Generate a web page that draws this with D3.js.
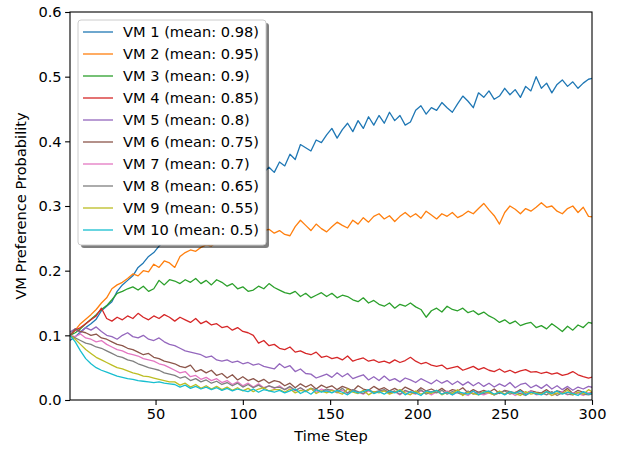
<!DOCTYPE html>
<html>
<head>
<meta charset="utf-8">
<script src="https://cdn.jsdelivr.net/npm/d3@7.9.0/dist/d3.min.js"></script>
<style>
  body { margin: 0; background: #fff; }
  svg { font-family: "DejaVu Sans", sans-serif; }
</style>
</head>
<body>
<div id="vis"></div>
<script>
// time steps sampled every 3 steps (1, 4, ..., 301)
const steps = d3.range(1, 302, 3);

const names = ['VM 1', 'VM 2', 'VM 3', 'VM 4', 'VM 5', 'VM 6', 'VM 7', 'VM 8', 'VM 9', 'VM 10'];
const means = ['0.98', '0.95', '0.9', '0.85', '0.8', '0.75', '0.7', '0.65', '0.55', '0.5'];
const colors = ['#1f77b4', '#ff7f0e', '#2ca02c', '#d62728', '#9467bd', '#8c564b', '#e377c2', '#7f7f7f', '#bcbd22', '#17becf'];

const vm1 = [.092,.098,.105,.112,.118,.125,.138,.145,.152,.168,
  .178,.185,.192,.205,.212,.222,.228,.238,.246,.250,
  .258,.262,.270,.272,.280,.286,.290,.296,.300,.305,
  .312,.318,.322,.330,.335,.340,.346,.352,.360,.352,
  .368,.362,.380,.372,.395,.390,.385,.402,.398,.410,
  .420,.405,.418,.428,.415,.432,.420,.438,.425,.440,
  .428,.445,.432,.440,.425,.430,.448,.455,.442,.452,
  .448,.460,.452,.445,.458,.470,.462,.452,.475,.468,
  .478,.465,.470,.482,.472,.480,.468,.485,.478,.500,
  .482,.490,.475,.488,.495,.485,.492,.482,.490,.496,.498];
const vm2 = [.100,.108,.118,.125,.132,.140,.150,.158,.172,.178,
  .182,.188,.195,.192,.200,.198,.210,.205,.215,.212,
  .205,.222,.228,.232,.230,.236,.240,.238,.244,.246,
  .248,.250,.252,.254,.256,.258,.260,.262,.264,.258,
  .262,.256,.254,.268,.278,.270,.262,.272,.265,.260,
  .268,.275,.270,.266,.278,.272,.282,.275,.284,.288,
  .280,.285,.276,.284,.290,.283,.288,.281,.292,.286,
  .280,.288,.284,.290,.282,.286,.292,.288,.296,.304,
  .294,.285,.272,.290,.300,.295,.288,.296,.292,.298,
  .305,.298,.300,.292,.288,.296,.300,.290,.298,.284,.283];
const vm3 = [.100,.104,.110,.118,.125,.132,.140,.146,.155,.165,
  .168,.172,.175,.170,.176,.168,.172,.185,.178,.186,
  .184,.180,.186,.182,.188,.180,.185,.178,.186,.182,
  .176,.180,.172,.175,.168,.170,.176,.172,.180,.174,
  .170,.166,.164,.168,.160,.165,.158,.162,.166,.160,
  .165,.158,.162,.160,.155,.152,.158,.150,.154,.148,
  .145,.150,.142,.148,.145,.150,.144,.140,.128,.138,
  .142,.136,.145,.140,.138,.142,.135,.138,.132,.136,
  .130,.126,.120,.124,.118,.122,.115,.118,.120,.112,
  .115,.110,.118,.112,.106,.114,.108,.116,.112,.120,.118];
const vm4 = [.100,.108,.112,.118,.124,.130,.142,.126,.122,.128,
  .124,.130,.126,.134,.128,.124,.130,.126,.132,.128,
  .122,.128,.124,.120,.126,.118,.122,.116,.118,.112,
  .114,.108,.112,.106,.104,.100,.088,.092,.084,.086,
  .080,.078,.082,.074,.076,.072,.070,.074,.066,.068,
  .064,.066,.062,.068,.060,.063,.065,.060,.062,.058,
  .060,.057,.062,.058,.061,.066,.060,.056,.058,.054,
  .052,.054,.048,.050,.052,.046,.049,.052,.047,.050,
  .046,.044,.048,.043,.046,.042,.045,.047,.043,.044,
  .041,.043,.040,.042,.038,.040,.044,.039,.036,.034,.036];
const vm5 = [.105,.110,.104,.112,.108,.113,.106,.100,.098,.094,
  .100,.104,.098,.096,.100,.094,.092,.096,.090,.086,
  .084,.080,.076,.074,.072,.070,.066,.068,.062,.060,
  .062,.058,.060,.056,.058,.054,.056,.052,.050,.048,
  .056,.050,.053,.044,.048,.041,.040,.034,.037,.040,
  .035,.042,.036,.041,.033,.036,.039,.031,.036,.030,
  .037,.030,.033,.028,.034,.031,.027,.033,.029,.025,
  .031,.026,.030,.024,.029,.023,.028,.022,.027,.021,
  .026,.020,.025,.021,.027,.019,.024,.026,.019,.023,
  .018,.024,.017,.022,.016,.021,.015,.020,.017,.021,.019];
const vm6 = [.100,.110,.106,.104,.100,.102,.096,.094,.090,.086,
  .084,.080,.078,.074,.070,.072,.066,.064,.060,.058,
  .056,.052,.050,.054,.044,.047,.042,.046,.038,.041,
  .034,.039,.031,.036,.030,.033,.028,.032,.026,.030,
  .028,.022,.026,.019,.025,.020,.024,.017,.023,.019,
  .022,.016,.021,.018,.014,.022,.017,.015,.021,.016,
  .019,.014,.018,.013,.020,.016,.012,.019,.014,.017,
  .013,.018,.012,.016,.014,.019,.011,.016,.012,.015,
  .012,.017,.010,.015,.013,.011,.016,.010,.014,.012,
  .011,.016,.010,.014,.012,.018,.010,.015,.012,.010,.013];
const vm7 = [.100,.098,.102,.096,.094,.090,.092,.086,.082,.078,
  .076,.072,.070,.068,.064,.062,.060,.056,.054,.050,
  .046,.042,.044,.036,.038,.032,.035,.030,.033,.027,
  .030,.024,.028,.022,.026,.020,.025,.019,.022,.018,
  .022,.016,.020,.014,.019,.013,.018,.012,.017,.014,
  .016,.011,.015,.010,.016,.012,.009,.014,.011,.013,
  .015,.010,.013,.008,.014,.011,.009,.014,.012,.008,
  .013,.009,.014,.008,.012,.010,.007,.013,.010,.008,
  .011,.008,.013,.009,.012,.007,.011,.009,.014,.008,
  .009,.012,.007,.010,.013,.008,.011,.010,.007,.011,.009];
const vm8 = [.100,.096,.092,.088,.086,.082,.080,.076,.072,.068,
  .066,.062,.060,.056,.053,.050,.048,.046,.042,.040,
  .038,.034,.036,.030,.033,.028,.031,.026,.029,.024,
  .027,.022,.026,.020,.024,.019,.023,.018,.022,.019,
  .020,.016,.021,.015,.019,.014,.018,.016,.013,.017,
  .015,.012,.018,.011,.016,.013,.010,.016,.012,.014,
  .016,.011,.014,.009,.015,.012,.010,.016,.009,.013,
  .011,.015,.009,.013,.011,.008,.014,.009,.012,.010,
  .013,.008,.011,.014,.009,.012,.010,.007,.012,.009,
  .011,.008,.013,.007,.011,.009,.008,.012,.009,.008,.010];
const vm9 = [.100,.094,.086,.078,.072,.066,.062,.058,.054,.050,
  .048,.045,.042,.040,.037,.036,.034,.032,.030,.028,
  .028,.023,.026,.020,.024,.018,.022,.017,.021,.016,
  .020,.015,.019,.014,.018,.013,.017,.019,.014,.016,
  .016,.012,.017,.011,.015,.013,.018,.010,.014,.011,
  .015,.012,.009,.017,.012,.010,.015,.008,.013,.011,
  .014,.009,.012,.016,.011,.008,.014,.009,.012,.010,
  .015,.008,.012,.010,.016,.007,.012,.010,.008,.013,
  .011,.008,.014,.009,.012,.010,.007,.013,.009,.011,
  .009,.013,.007,.011,.010,.015,.008,.012,.009,.016,.011];
const vm10 = [.100,.090,.076,.064,.056,.050,.046,.043,.040,.037,
  .035,.033,.032,.030,.029,.028,.027,.028,.026,.025,
  .024,.020,.023,.018,.021,.017,.020,.016,.019,.015,
  .018,.014,.017,.015,.013,.017,.012,.016,.014,.012,
  .015,.011,.014,.017,.010,.014,.009,.016,.012,.014,
  .011,.015,.012,.008,.014,.011,.013,.016,.010,.013,
  .009,.014,.011,.015,.008,.013,.011,.007,.014,.012,
  .015,.009,.012,.008,.013,.011,.009,.014,.008,.012,
  .014,.009,.012,.008,.013,.010,.014,.008,.012,.010,
  .008,.013,.010,.014,.009,.012,.010,.007,.013,.009,.011];

const seriesValues = [vm1, vm2, vm3, vm4, vm5, vm6, vm7, vm8, vm9, vm10];
const xTicks = [50, 100, 150, 200, 250, 300];
const yTicks = [0, 0.1, 0.2, 0.3, 0.4, 0.5, 0.6];

const W = 618, H = 449;
const m = { left: 70, right: 26, top: 12, bottom: 49 };

const svg = d3.select('#vis').append('svg')
  .attr('width', W).attr('height', H);

const x = d3.scaleLinear().domain([1, 300]).range([m.left, W - m.right]);
const y = d3.scaleLinear().domain([0, 0.6]).range([H - m.bottom, m.top]);

svg.append('defs').append('clipPath').attr('id', 'clip')
  .append('rect')
  .attr('x', m.left).attr('y', m.top)
  .attr('width', W - m.left - m.right).attr('height', H - m.top - m.bottom);

// lines
const line = d3.line()
  .x((d, i) => x(steps[i]))
  .y(d => y(d));

svg.append('g').attr('clip-path', 'url(#clip)')
  .selectAll('path')
  .data(seriesValues)
  .join('path')
    .attr('fill', 'none')
    .attr('stroke', (d, i) => colors[i])
    .attr('stroke-width', 1.3)
    .attr('stroke-linejoin', 'round')
    .attr('d', line);

// axes
const fs = '14.6px';
const xAxis = svg.append('g')
  .attr('transform', `translate(0,${H - m.bottom})`)
  .call(d3.axisBottom(x).tickValues(xTicks).tickSize(4.9).tickPadding(3.5));
const yAxis = svg.append('g')
  .attr('transform', `translate(${m.left},0)`)
  .call(d3.axisLeft(y).tickValues(yTicks).tickSize(4.9).tickPadding(3.5).tickFormat(d3.format('.1f')));

[xAxis, yAxis].forEach(g => {
  g.select('.domain').remove();
  g.selectAll('.tick line').attr('stroke', '#000').attr('stroke-width', 1.1);
  g.selectAll('.tick text').attr('fill', '#000').style('font-size', fs)
    .style('font-family', '"DejaVu Sans", sans-serif');
});

// frame
svg.append('rect')
  .attr('x', m.left).attr('y', m.top)
  .attr('width', W - m.left - m.right).attr('height', H - m.top - m.bottom)
  .attr('fill', 'none').attr('stroke', '#000').attr('stroke-width', 1.1);

// axis labels
svg.append('text')
  .attr('x', (m.left + W - m.right) / 2).attr('y', 441)
  .attr('text-anchor', 'middle').style('font-size', fs)
  .text('Time Step');
svg.append('text')
  .attr('transform', `translate(26,${(m.top + H - m.bottom) / 2}) rotate(-90)`)
  .attr('text-anchor', 'middle').style('font-size', fs)
  .text('VM Preference Probability');

// legend
const lg = { x: 78, y: 20, w: 188, h: 225, row: 22 };
svg.append('rect')
  .attr('x', lg.x + 3).attr('y', lg.y + 3)
  .attr('width', lg.w).attr('height', lg.h)
  .attr('rx', 3).attr('fill', '#000').attr('opacity', 0.5);
svg.append('rect')
  .attr('x', lg.x).attr('y', lg.y)
  .attr('width', lg.w).attr('height', lg.h)
  .attr('rx', 3).attr('fill', '#fff').attr('stroke', '#ccc').attr('stroke-width', 1);

const items = svg.append('g').selectAll('g')
  .data(names)
  .join('g')
    .attr('transform', (d, i) => `translate(${lg.x + 5},${lg.y + 12 + i * lg.row})`);
items.append('line')
  .attr('x1', 0).attr('x2', 30)
  .attr('stroke', (d, i) => colors[i]).attr('stroke-width', 1.3);
items.append('text')
  .attr('x', 40).attr('dy', '0.35em')
  .style('font-size', fs)
  .attr('fill', '#000')
  .text((d, i) => `${d} (mean: ${means[i]})`);
</script>
</body>
</html>
